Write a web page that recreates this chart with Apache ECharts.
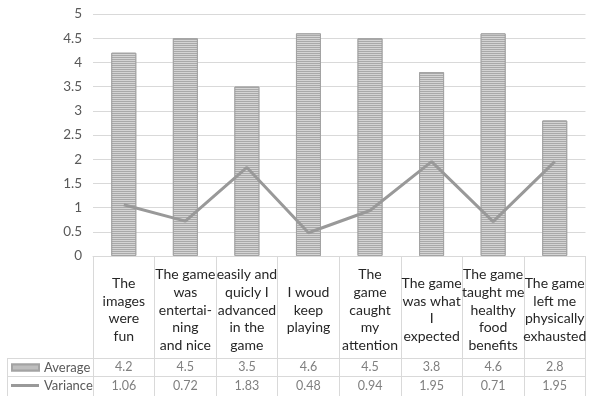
<!DOCTYPE html>
<html>
<head>
<meta charset="utf-8">
<script src="https://cdn.jsdelivr.net/npm/echarts@6/dist/echarts.min.js"></script>
<style>
  html, body { margin: 0; padding: 0; background: #fff; }
  #chart { width: 589px; height: 396px; }
</style>
</head>
<body>
<div id="chart"></div>
<script>
// Survey statements (line breaks as they wrap in the table header cells)
const statements = [
  'The\nimages\nwere\nfun',
  'The game\nwas\nentertai-\nning\nand nice',
  'easily and\nquicly I\nadvanced\nin the\ngame',
  'I woud\nkeep\nplaying',
  'The\ngame\ncaught\nmy\nattention',
  'The game\nwas what\nI\nexpected',
  'The game\ntaught me\nhealthy\nfood\nbenefits',
  'The game\nleft me\nphysically\nexhausted'
];
const averageScores = [4.2, 4.5, 3.5, 4.6, 4.5, 3.8, 4.6, 2.8];
const varianceScores = [1.06, 0.72, 1.83, 0.48, 0.94, 1.95, 0.71, 1.95];
const yTicks = { min: 0, max: 5, step: 0.5 };

const FONT = 'Lato';
const TEXT = '#595959';
const GRID_LINE = '#d9d9d9';

const chart = echarts.init(document.getElementById('chart'));

// fine horizontal hatching on the bars
const stripes = {
  symbol: 'rect',
  symbolSize: 1,
  dashArrayX: [1, 0],
  dashArrayY: [1, 1],
  rotation: 0,
  color: 'rgba(222,222,222,0.8)'
};

const legendText = { color: TEXT, fontSize: 13, fontFamily: FONT };

chart.setOption({
  animation: false,
  textStyle: { fontFamily: FONT },
  grid: { left: 93, right: -1, top: 14, bottom: 140, containLabel: false },
  // row headers of the data table, one key per row
  legend: [
    {
      left: 11, top: 361, padding: 0,
      itemWidth: 27, itemHeight: 6,
      textStyle: legendText,
      data: [{ name: 'Average', icon: 'rect' }]
    },
    {
      left: 11, top: 379, padding: 0,
      itemWidth: 28, itemHeight: 3,
      textStyle: legendText,
      data: [{ name: 'Variance', icon: 'rect' }]
    }
  ],
  xAxis: [
    {
      type: 'category',
      data: statements,
      axisLine: { show: true, lineStyle: { color: GRID_LINE, width: 1 } },
      axisTick: { show: true, length: 140, lineStyle: { color: GRID_LINE } },
      axisLabel: {
        interval: 0,
        color: '#262626',
        fontSize: 14,
        fontFamily: FONT,
        lineHeight: 17.7,
        margin: 54,
        verticalAlign: 'middle',
        align: 'center'
      }
    },
    {
      type: 'category',
      position: 'bottom',
      offset: 102,
      data: averageScores.map(v => v.toFixed(1)),
      axisLine: { show: true, lineStyle: { color: GRID_LINE } },
      axisTick: { show: false },
      axisLabel: { interval: 0, color: '#7f7f7f', fontSize: 12.5, fontFamily: FONT, margin: 9, verticalAlign: 'middle' }
    },
    {
      type: 'category',
      position: 'bottom',
      offset: 120,
      data: varianceScores.map(v => v.toFixed(2)),
      axisLine: { show: true, lineStyle: { color: GRID_LINE } },
      axisTick: { show: false },
      axisLabel: { interval: 0, color: '#7f7f7f', fontSize: 12.5, fontFamily: FONT, margin: 10, verticalAlign: 'middle' }
    }
  ],
  yAxis: {
    type: 'value',
    min: yTicks.min,
    max: yTicks.max,
    interval: yTicks.step,
    axisLine: { show: false },
    axisTick: { show: false },
    axisLabel: { color: TEXT, fontSize: 13.5, fontFamily: FONT, margin: 11 },
    splitLine: { lineStyle: { color: GRID_LINE, width: 1 } }
  },
  graphic: [
    // left column borders of the data table
    { type: 'line', shape: { x1: 7, y1: 358.5, x2: 93, y2: 358.5 }, style: { stroke: GRID_LINE, lineWidth: 1 }, silent: true },
    { type: 'line', shape: { x1: 7, y1: 376.5, x2: 93, y2: 376.5 }, style: { stroke: GRID_LINE, lineWidth: 1 }, silent: true },
    { type: 'line', shape: { x1: 7.5, y1: 358, x2: 7.5, y2: 396 }, style: { stroke: GRID_LINE, lineWidth: 1 }, silent: true }
  ],
  series: [
    {
      name: 'Average',
      type: 'bar',
      data: averageScores,
      barWidth: 25,
      itemStyle: {
        color: '#a9a9a9',
        borderColor: '#a3a3a3',
        borderWidth: 1,
        decal: stripes
      },
      z: 2
    },
    {
      name: 'Variance',
      type: 'line',
      data: varianceScores,
      showSymbol: false,
      symbol: 'none',
      lineStyle: { color: '#999999', width: 3 },
      itemStyle: { color: '#999999' },
      z: 3
    }
  ]
});
</script>
</body>
</html>
